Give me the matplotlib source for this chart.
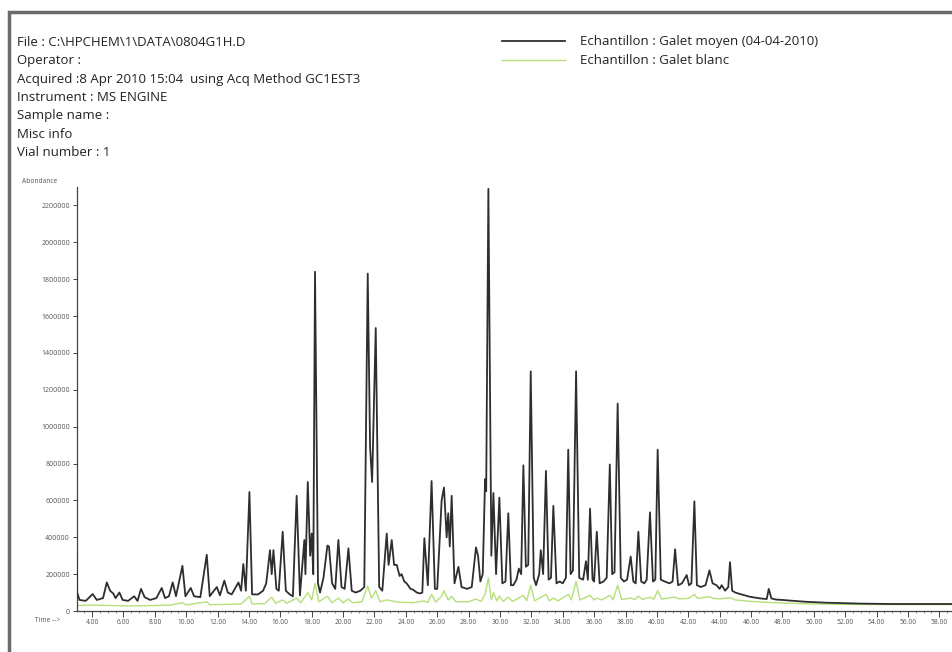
import matplotlib
matplotlib.use("Agg")
import matplotlib.pyplot as plt
from matplotlib.patches import Rectangle
from matplotlib.ticker import FixedLocator, MultipleLocator

# Header text of the report
header_lines = [
    "File : C:\\HPCHEM\\1\\DATA\\0804G1H.D",
    "Operator :",
    "Acquired :8 Apr 2010 15:04  using Acq Method GC1EST3",
    "Instrument : MS ENGINE",
    "Sample name :",
    "Misc info",
    "Vial number : 1",
]
legend_labels = ["Echantillon : Galet moyen (04-04-2010)", "Echantillon : Galet blanc"]

# Black trace: Galet moyen (time in min, abundance)
moyen_time = [
    3.0, 3.05, 3.2, 3.6, 4.04, 4.3, 4.7, 4.94, 5.15, 5.35, 5.5, 5.74, 5.95, 6.3, 6.68, 6.9,
    7.12, 7.35, 7.7, 8.1, 8.44, 8.65, 8.9, 9.14, 9.35, 9.76, 9.95, 10.29, 10.5, 10.9, 11.31,
    11.5, 11.95, 12.15, 12.43, 12.65, 12.9, 13.33, 13.5, 13.64, 13.8, 14.03, 14.2, 14.58,
    14.9, 15.1, 15.34, 15.45, 15.56, 15.75, 15.9, 16.15, 16.35, 16.6, 16.8, 17.04, 17.25,
    17.53, 17.6, 17.75, 17.9, 18.0, 18.1, 18.21, 18.4, 18.53, 18.75, 19.0, 19.1, 19.3, 19.5,
    19.7, 19.9, 20.1, 20.34, 20.55, 20.8, 21.1, 21.35, 21.57, 21.72, 21.85, 22.08, 22.3,
    22.5, 22.78, 22.9, 23.1, 23.25, 23.42, 23.6, 23.73, 23.9, 24.05, 24.3, 24.47, 24.7,
    24.9, 25.05, 25.18, 25.4, 25.64, 25.85, 26.0, 26.28, 26.43, 26.6, 26.7, 26.8, 26.92,
    27.1, 27.35, 27.55, 27.9, 28.2, 28.47, 28.6, 28.75, 28.9, 29.05, 29.12, 29.26, 29.45,
    29.58, 29.75, 29.96, 30.15, 30.35, 30.53, 30.7, 30.85, 31.05, 31.2, 31.35, 31.49,
    31.65, 31.8, 31.96, 32.15, 32.3, 32.5, 32.6, 32.75, 32.93, 33.1, 33.25, 33.4, 33.6,
    33.8, 34.0, 34.2, 34.35, 34.5, 34.65, 34.85, 35.05, 35.3, 35.48, 35.6, 35.74, 35.9,
    36.0, 36.17, 36.35, 36.6, 36.8, 37.0, 37.15, 37.3, 37.5, 37.7, 37.9, 38.1, 38.33, 38.5,
    38.65, 38.82, 39.0, 39.2, 39.35, 39.56, 39.75, 39.9, 40.05, 40.25, 40.5, 40.8, 41.0,
    41.16, 41.35, 41.6, 41.9, 42.05, 42.2, 42.39, 42.55, 42.8, 43.1, 43.35, 43.55, 43.8,
    44.0, 44.13, 44.35, 44.55, 44.66, 44.8, 45.0, 45.3, 45.6, 45.94, 46.3, 46.6, 47.0,
    47.13, 47.3, 47.6, 48.0, 48.7, 49.5, 50.8, 52.0, 53.0, 55.0, 58.8,
]
moyen_abund = [
    330000, 100000, 60000, 55000, 92000, 60000, 70000, 155000, 110000, 95000, 70000, 100000,
    60000, 55000, 80000, 55000, 120000, 75000, 60000, 70000, 125000, 70000, 80000, 155000,
    80000, 245000, 80000, 125000, 80000, 75000, 305000, 80000, 130000, 85000, 165000,
    100000, 90000, 155000, 110000, 255000, 110000, 645000, 90000, 90000, 110000, 150000,
    330000, 200000, 330000, 120000, 110000, 430000, 110000, 90000, 80000, 625000, 85000,
    385000, 200000, 700000, 300000, 420000, 200000, 1840000, 150000, 100000, 180000,
    355000, 350000, 150000, 120000, 385000, 130000, 120000, 340000, 110000, 100000, 110000,
    130000, 1830000, 890000, 700000, 1535000, 130000, 110000, 420000, 250000, 385000,
    250000, 250000, 190000, 200000, 160000, 150000, 120000, 115000, 100000, 95000, 100000,
    395000, 140000, 705000, 120000, 120000, 600000, 670000, 400000, 530000, 350000, 625000,
    150000, 240000, 130000, 120000, 130000, 345000, 300000, 160000, 200000, 715000, 650000,
    2290000, 300000, 640000, 200000, 615000, 150000, 160000, 530000, 140000, 140000,
    170000, 230000, 200000, 790000, 240000, 250000, 1300000, 180000, 140000, 200000,
    330000, 200000, 760000, 170000, 180000, 570000, 150000, 160000, 150000, 180000, 875000,
    200000, 220000, 1300000, 180000, 170000, 270000, 170000, 555000, 170000, 160000,
    430000, 150000, 160000, 180000, 795000, 200000, 210000, 1125000, 180000, 160000,
    170000, 295000, 160000, 150000, 430000, 160000, 150000, 170000, 535000, 160000, 170000,
    875000, 170000, 160000, 150000, 160000, 335000, 140000, 150000, 195000, 140000, 150000,
    595000, 140000, 130000, 140000, 220000, 150000, 140000, 120000, 140000, 110000, 130000,
    265000, 110000, 100000, 92000, 85000, 77000, 72000, 68000, 65000, 120000, 68000, 62000,
    60000, 55000, 50000, 45000, 42000, 40000, 38000, 38000,
]

# Light green trace: Galet blanc
blanc_time = [
    3.0, 3.1, 4.0, 5.0, 6.0, 7.0, 8.0, 9.0, 9.76, 10.0, 11.31, 11.5, 12.5, 13.5, 14.03, 14.2,
    15.0, 15.45, 15.7, 16.15, 16.4, 17.04, 17.3, 17.75, 18.0, 18.21, 18.45, 19.0, 19.3,
    19.7, 20.0, 20.34, 20.6, 21.2, 21.57, 21.8, 22.08, 22.35, 22.78, 23.1, 23.5, 24.5,
    25.18, 25.4, 25.64, 25.9, 26.28, 26.43, 26.7, 26.92, 27.2, 28.0, 28.47, 28.8, 29.05,
    29.26, 29.45, 29.58, 29.8, 29.96, 30.2, 30.53, 30.8, 31.49, 31.7, 31.96, 32.2, 32.93,
    33.15, 33.4, 33.7, 34.35, 34.55, 34.85, 35.1, 35.74, 36.0, 36.17, 36.5, 37.0, 37.2,
    37.5, 37.75, 38.33, 38.6, 38.82, 39.1, 39.56, 39.8, 40.05, 40.3, 41.16, 41.4, 42.0,
    42.39, 42.6, 43.35, 43.6, 44.0, 44.66, 45.0, 46.0, 47.0, 48.0, 50.0, 52.0, 55.0, 58.8,
]
blanc_abund = [
    40000, 30000, 32000, 30000, 28000, 28000, 30000, 32000, 45000, 33000, 50000, 34000,
    36000, 38000, 80000, 38000, 40000, 75000, 42000, 60000, 42000, 70000, 45000, 100000,
    60000, 150000, 50000, 80000, 45000, 70000, 45000, 65000, 45000, 50000, 135000, 70000,
    110000, 50000, 60000, 55000, 48000, 45000, 55000, 45000, 90000, 48000, 80000, 110000,
    60000, 80000, 50000, 50000, 65000, 52000, 90000, 180000, 60000, 100000, 55000, 80000,
    52000, 75000, 52000, 85000, 55000, 140000, 55000, 90000, 55000, 70000, 55000, 90000,
    60000, 160000, 60000, 85000, 60000, 70000, 60000, 85000, 60000, 140000, 62000, 70000,
    62000, 80000, 63000, 75000, 64000, 110000, 65000, 75000, 66000, 68000, 90000, 68000,
    78000, 68000, 66000, 72000, 60000, 52000, 47000, 43000, 38000, 36000, 35000, 35000,
]

x_ticks = [4 + 2 * i for i in range(28)]
y_ticks = [200000 * i for i in range(12)]

plt.rcParams['font.family'] = ['Open Sans', 'DejaVu Sans']

fig = plt.figure(figsize=(9.52, 6.52), dpi=100)
W, H = 952, 652

# gray frame around the report
fig.patches.append(Rectangle((9 / W, 0 - 0.01), 1.02, 1 - 12 / H + 0.01,
                             transform=fig.transFigure, fill=False,
                             edgecolor="#6a6a6a", linewidth=2.5))

for i, line in enumerate(header_lines):
    fig.text(17 / W, 1 - (42 + 18.5 * i) / H, line, fontsize=9.5, va="center",
             ha="left", color="#222222")

ax = fig.add_axes([77 / W, 1 - 611 / H, (W - 77) / W, (611 - 187) / H])
l1, = ax.plot(moyen_time, moyen_abund, color="#2e2e2e", linewidth=1.3, zorder=3)
l2, = ax.plot(blanc_time, blanc_abund, color="#b5e07a", linewidth=1.0, zorder=2)

ax.set_xlim(3.04, 58.81)
ax.set_ylim(0, 2300000)
for s in ["top", "right"]:
    ax.spines[s].set_visible(False)
for s in ["left", "bottom"]:
    ax.spines[s].set_color("#444444")
    ax.spines[s].set_linewidth(0.9)

ax.xaxis.set_major_locator(FixedLocator(x_ticks))
ax.xaxis.set_minor_locator(MultipleLocator(0.5))
ax.set_xticklabels([f"{v:.2f}" for v in x_ticks])
ax.yaxis.set_major_locator(FixedLocator(y_ticks))
ax.set_yticklabels([str(v) for v in y_ticks])
ax.tick_params(axis="x", which="major", length=4, width=0.7, labelsize=4.8, pad=1.5,
               colors="#444444", labelcolor="#555555")
ax.tick_params(axis="x", which="minor", length=1.5, width=0.5, colors="#666666")
ax.tick_params(axis="y", length=3, width=0.7, labelsize=5, pad=2,
               colors="#444444", labelcolor="#555555")

fig.text(22 / W, 1 - 182 / H, "Abondance", fontsize=4.8, va="center", ha="left",
         color="#555555")
fig.text(35 / W, 1 - 621 / H, "Time -->", fontsize=4.8, va="center", ha="left",
         color="#555555")

fig.legend([l1, l2], legend_labels, loc="upper left",
           bbox_to_anchor=(502 / W, 1 - 35.5 / H), frameon=False, fontsize=9.5,
           handlelength=4.8, handletextpad=1.1, labelspacing=0.44,
           borderpad=0, borderaxespad=0, labelcolor="#222222")

fig.savefig("out.png", dpi=100)
